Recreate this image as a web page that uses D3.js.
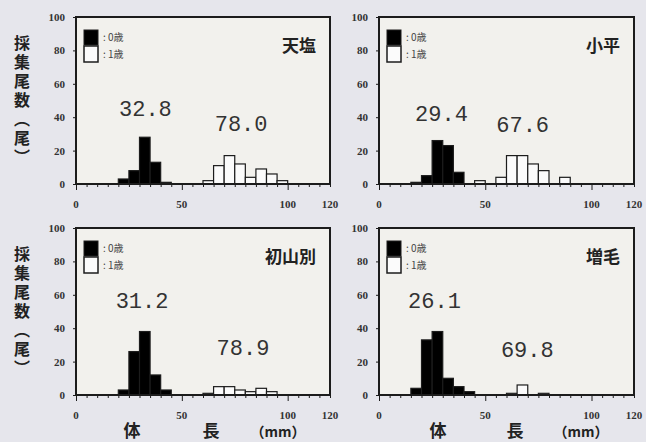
<!DOCTYPE html>
<html><head><meta charset="utf-8">
<script src="https://cdn.jsdelivr.net/npm/d3@7"></script>
<style>html,body{margin:0;padding:0;background:#e6e6ec;} svg{display:block}</style>
</head><body>
<svg id="chart" width="646" height="442"></svg>
<script>
// ---- data ----
const bins = [15,20,25,30,35,40,45,50,55,60,65,70,75,80,85,90,95]; // bin start (mm), width 5 mm
const binWidth = 5;
const sites = ["天塩","小平","初山別","増毛"];
const age0Teshio   = [0,3,8,28,13,1,0,0,0,0,0,0,0,0,0,0,0];
const age1Teshio   = [0,0,0,0,0,0,0,0,0,2,11,17,12,4,9,6,2];
const age0Obira    = [1,5,26,23,7,0,0,0,0,0,0,0,0,0,0,0,0];
const age1Obira    = [0,0,0,0,0,0,2,0,4,17,17,12,8,0,4,0,0];
const age0Shosanbetsu = [0,3,26,38,12,3,0,0,0,0,0,0,0,0,0,0,0];
const age1Shosanbetsu = [0,0,0,0,0,0,0,0,0,1,5,5,3,2,4,2,0];
const age0Mashike  = [4,33,38,10,5,2,0,0,0,0,0,0,0,0,0,0,0];
const age1Mashike  = [0,0,0,0,0,0,0,0,0,1,6,0,1,0,0,0,0];
const mean0 = [32.8,29.4,31.2,26.1];
const mean1 = [78.0,67.6,78.9,69.8];
const yTicks = [0,20,40,60,80,100];
const xTickLabels = [0,50,100,120];
const legendLabels = [": 0歳", ": 1歳"];
const yTitle = "採集尾数（尾）";
const xTitle = ["体","長","（mm）"];

// ---- layout ----
const svg = d3.select("#chart");
const panels = [
  {x0:76,  x1:330, yT:17,  yB:184, a0:age0Teshio, a1:age1Teshio, lab:[41,32]},
  {x0:379, x1:634, yT:17,  yB:184, a0:age0Obira, a1:age1Obira, lab:[38,31]},
  {x0:76,  x1:330, yT:228, yB:395, a0:age0Shosanbetsu, a1:age1Shosanbetsu, lab:[52,24]},
  {x0:379, x1:634, yT:228, yB:395, a0:age0Mashike, a1:age1Mashike, lab:[52,23]}
];
const ink = "#1c1c1c";

panels.forEach((p, i) => {
  const x = d3.scaleLinear().domain([0,120]).range([p.x0, p.x1]);
  const y = d3.scaleLinear().domain([0,100]).range([p.yB, p.yT]);
  const g = svg.append("g");

  g.append("rect").attr("x",p.x0).attr("y",p.yT).attr("width",p.x1-p.x0).attr("height",p.yB-p.yT)
    .attr("fill","#f2f1ed");

  const mk = (arr, fill) => g.append("g").selectAll("rect")
    .data(bins.map((b,k)=>({b, v:arr[k]})).filter(d=>d.v>0))
    .join("rect")
    .attr("x", d=>x(d.b)).attr("width", d=>x(d.b+binWidth)-x(d.b))
    .attr("y", d=>y(d.v)).attr("height", d=>y(0)-y(d.v))
    .attr("fill", fill).attr("stroke", ink).attr("stroke-width",1.2);
  mk(p.a0, "#000");
  mk(p.a1, "#fbfbfb");

  g.append("rect").attr("x",p.x0).attr("y",p.yT).attr("width",p.x1-p.x0).attr("height",p.yB-p.yT)
    .attr("fill","none").attr("stroke",ink).attr("stroke-width",2);

  const xa = g.append("g").attr("transform",`translate(0,${p.yB})`)
    .call(d3.axisBottom(x).tickValues(d3.range(0,121,5)).tickSize(3).tickFormat(""));
  xa.select(".domain").remove();
  xa.selectAll("line").attr("stroke",ink).attr("stroke-width",1)
    .attr("y2", d => (d%50===0 ? 6 : 3));
  g.append("g").selectAll("text").data(xTickLabels).join("text")
    .attr("x", d=>x(d)).attr("y", p.yB+24)
    .attr("text-anchor","middle")
    .attr("font-family","Liberation Serif").attr("font-weight","bold").attr("font-size",11)
    .attr("fill","#333").text(d=>d);

  const ya = g.append("g").attr("transform",`translate(${p.x0},0)`)
    .call(d3.axisLeft(y).tickValues(yTicks).tickSize(3).tickPadding(8));
  ya.select(".domain").remove();
  ya.selectAll("line").attr("stroke",ink);
  ya.selectAll("text").attr("font-family","Liberation Serif").attr("font-weight","bold")
    .attr("font-size",11).attr("fill","#333");

  const lx = p.x0 + 8, ly = p.yT + 13;
  g.append("rect").attr("x",lx).attr("y",ly).attr("width",14).attr("height",15).attr("fill","#000").attr("stroke",ink);
  g.append("rect").attr("x",lx).attr("y",ly+16).attr("width",14).attr("height",16).attr("fill","#fbfbfb").attr("stroke",ink).attr("stroke-width",1.5);
  g.append("g").selectAll("text").data(legendLabels).join("text")
    .attr("x", lx+19).attr("y",(d,k)=>ly+11+k*17)
    .attr("font-family","Noto Sans CJK JP").attr("font-size",10).attr("fill","#444").text(d=>d);

  g.append("text").attr("x", p.x1-14).attr("y", p.yT+35).attr("text-anchor","end")
    .attr("font-family","Noto Sans CJK JP").attr("font-weight","bold").attr("font-size",17)
    .attr("fill","#222").text(sites[i]);

  const fmt = d3.format(".1f");
  [[mean0[i], p.lab[0]], [mean1[i], p.lab[1]]].forEach(([m, ly2]) => {
    g.append("text").attr("x", x(m)).attr("y", y(ly2)).attr("text-anchor","middle")
      .attr("font-family","Liberation Mono").attr("font-size",22).attr("fill","#333").text(fmt(m));
  });
});

// y titles (left panels), vertical writing
[panels[0], panels[2]].forEach(p => {
  svg.append("text").attr("x",22).attr("y",p.yT+18)
    .style("writing-mode","vertical-rl").style("letter-spacing","3px")
    .attr("font-family","Noto Sans CJK JP").attr("font-weight","bold").attr("font-size",16)
    .attr("fill","#222").text(yTitle);
});

// x titles
const xTitlePos = [[132,211,278],[438,515,581]];
xTitlePos.forEach(arr => {
  arr.forEach((cx,k) => {
    svg.append("text").attr("x",cx).attr("y",437).attr("text-anchor","middle")
      .attr("font-family","Noto Sans CJK JP").attr("font-weight","bold").attr("font-size",k===2?14:17)
      .attr("fill","#222").text(xTitle[k]);
  });
});
</script>
</body></html>
